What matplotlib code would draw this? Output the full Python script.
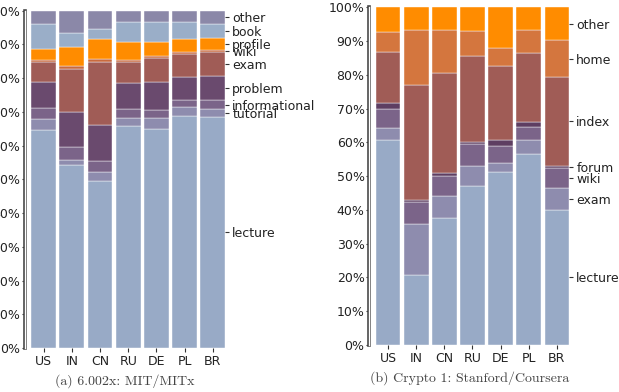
import numpy as np
import matplotlib
matplotlib.use('Agg')
import matplotlib.pyplot as plt
import matplotlib.patheffects as pe
from matplotlib.ticker import FuncFormatter

countries = ['US', 'IN', 'CN', 'RU', 'DE', 'PL', 'BR']

# (a) 6.002x: MIT/MITx -- share of each category, bottom to top
mit_cats = ['lecture', 'tutorial', 'informational', 'problem', 'exam',
            'wiki', 'profile', 'book', 'other']
mit_lecture = [64.7, 54.1, 49.4, 65.7, 64.9, 68.8, 68.6]
mit_tutorial = [3.3, 1.7, 2.7, 2.4, 3.2, 2.6, 2.2]
mit_informational = [3.1, 3.9, 3.4, 2.7, 2.5, 2.2, 2.6]
mit_problem = [7.6, 10.4, 10.7, 7.7, 8.1, 6.7, 7.3]
mit_exam = [6.0, 12.6, 18.7, 6.4, 7.2, 6.7, 6.9]
mit_wiki = [0.8, 0.8, 0.8, 0.6, 0.7, 0.6, 0.6]
mit_profile = [3.2, 5.6, 6.0, 5.2, 4.2, 4.1, 3.7]
mit_book = [7.4, 4.2, 2.9, 5.8, 5.7, 4.8, 4.2]
mit_other = [3.9, 6.7, 5.4, 3.5, 3.5, 3.5, 3.9]

# (b) Crypto 1: Stanford/Coursera
cry_cats = ['lecture', 'exam', 'wiki', 'forum', 'index', 'home', 'other']
cry_lecture = [60.8, 20.6, 37.7, 47.1, 51.1, 56.6, 40.0]
cry_exam = [3.4, 15.3, 6.3, 6.0, 2.7, 4.2, 6.4]
cry_wiki = [5.7, 6.3, 6.1, 6.5, 5.2, 3.9, 5.9]
cry_forum = [1.7, 0.8, 0.8, 0.6, 1.6, 1.2, 0.8]
cry_index = [15.3, 34.1, 29.6, 25.5, 21.9, 20.6, 26.2]
cry_home = [5.7, 16.3, 12.9, 7.4, 5.3, 6.9, 10.9]
cry_other = [7.4, 6.6, 6.6, 6.9, 12.2, 6.6, 9.8]

mit_vals = [mit_lecture, mit_tutorial, mit_informational, mit_problem, mit_exam,
            mit_wiki, mit_profile, mit_book, mit_other]
cry_vals = [cry_lecture, cry_exam, cry_wiki, cry_forum, cry_index, cry_home, cry_other]

mit_colors = ['#98aac6', '#8e8cae', '#7b6489', '#6a4a6e', '#a05c56',
              '#c86a3e', '#ff8c00', '#9aaec8', '#8b88a8']
cry_colors = ['#98aac6', '#8e8cae', '#7b6489', '#5e3e62', '#a05c56',
              '#d4763e', '#ff8c00']

plt.rcParams['font.family'] = 'DejaVu Sans'
plt.rcParams['font.size'] = 9


def panel(ax, cats, vals, colors, caption):
    x = np.arange(len(countries))
    bottom = np.zeros(len(countries))
    for c, v, col in zip(cats, vals, colors):
        v = np.array(v)
        ax.bar(x, v, 0.88, bottom=bottom, color=col,
               edgecolor='#ffffff', linewidth=0.3, zorder=2)
        bottom += v
    ax.set_xlim(-0.66, 6.44)
    ax.set_ylim(0, 100)
    ax.set_xticks(x)
    ax.set_xticklabels(countries)
    ax.set_yticks(np.arange(0, 101, 10))
    ax.yaxis.set_major_formatter(FuncFormatter(lambda v, p: f'{v:.0f}%'))
    ax.tick_params(axis='both', length=3, width=0.8, color='#333333',
                   labelcolor='#222222', pad=2)
    ax.tick_params(axis='y', length=2.5, pad=1)
    for s in ['top', 'right', 'bottom']:
        ax.spines[s].set_visible(False)
    ax.spines['left'].set_color('white')
    ax.spines['left'].set_linewidth(1.0)
    ax.spines['left'].set_path_effects([pe.Stroke(linewidth=2.6, foreground='#444444'),
                                        pe.Normal()])

    # category labels at the middle of the last bar
    last = np.array([v[-1] for v in vals])
    tops = np.cumsum(last)
    mids = tops - last / 2
    ax2 = ax.twinx()
    ax2.set_ylim(0, 100)
    ax2.set_yticks(mids)
    ax2.set_yticklabels(cats)
    ax2.tick_params(axis='y', length=3, width=0.8, color='#333333',
                    labelcolor='#222222', pad=2)
    for s in ax2.spines.values():
        s.set_visible(False)

    ax.text(0.5, -0.098, caption, transform=ax.transAxes, ha='center', va='center',
            fontsize=10, family='cmr10', color='#444444')


fig = plt.figure(figsize=(6.19, 3.92), dpi=100)
ax_a = fig.add_axes([0.0404, 0.1122, 0.3236, 0.8607])
ax_b = fig.add_axes([0.5969, 0.1199, 0.3228, 0.8615])

panel(ax_a, mit_cats, mit_vals, mit_colors, '(a) 6.002x: MIT/MITx')
panel(ax_b, cry_cats, cry_vals, cry_colors, '(b) Crypto 1: Stanford/Coursera')

fig.savefig('out.png', dpi=100)
